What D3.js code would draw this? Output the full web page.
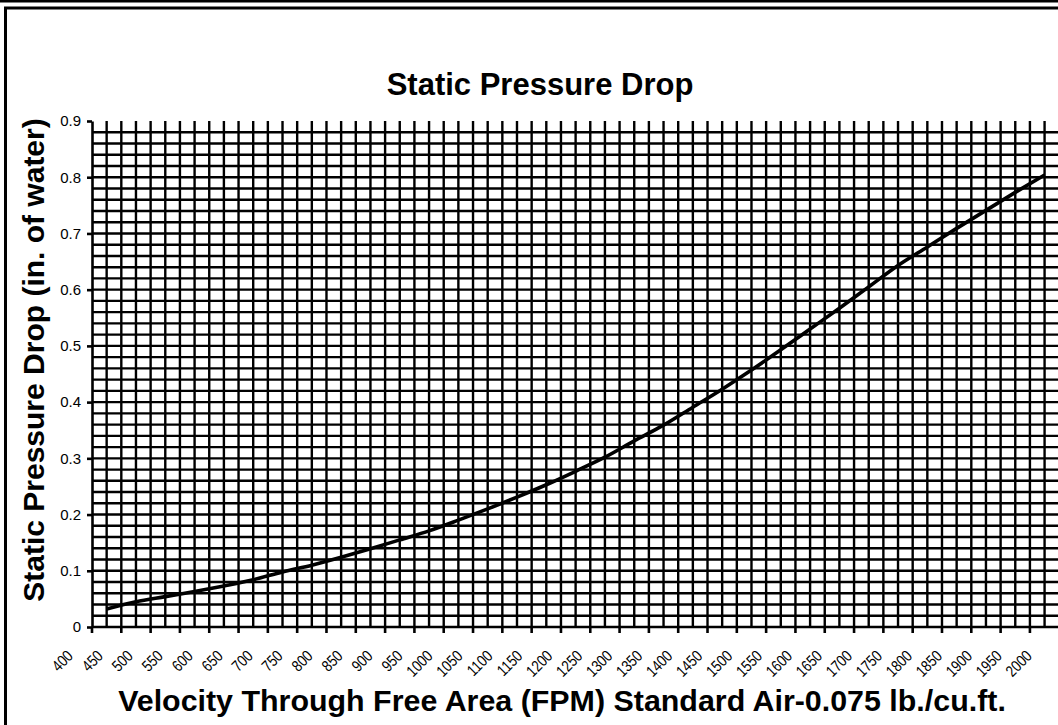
<!DOCTYPE html>
<html>
<head>
<meta charset="utf-8">
<script src="https://cdn.jsdelivr.net/npm/d3@7"></script>
<style>
  body { margin: 0; background: #fff; }
  svg { display: block; font-family: 'Liberation Sans', Arial, sans-serif; }
</style>
</head>
<body>
<svg width="1058" height="725"></svg>
<script>
// velocity categories (FPM)
const velocity = [400, 450, 500, 550, 600, 650, 700, 750, 800, 850, 900, 950, 1000,
  1050, 1100, 1150, 1200, 1250, 1300, 1350, 1400, 1450, 1500, 1550, 1600, 1650,
  1700, 1750, 1800, 1850, 1900, 1950, 2000];

// static pressure drop (in. of water)
const pressure = [0.032, 0.045, 0.054, 0.063, 0.073, 0.084, 0.098, 0.110, 0.124,
  0.139, 0.155, 0.171, 0.190, 0.210, 0.231, 0.253, 0.277, 0.302, 0.331, 0.359,
  0.391, 0.423, 0.457, 0.493, 0.530, 0.567, 0.605, 0.643, 0.676, 0.709, 0.741,
  0.773, 0.804];

const yTicks = [0, 0.1, 0.2, 0.3, 0.4, 0.5, 0.6, 0.7, 0.8, 0.9];

const data = velocity.map((v, i) => ({ v: v, p: pressure[i] }));

const svg = d3.select('svg');

// outer frame
svg.append('line')
  .attr('x1', 0).attr('x2', 1058).attr('y1', 1).attr('y2', 1)
  .attr('stroke', '#000').attr('stroke-width', 3);
svg.append('rect')
  .attr('x', 5.5).attr('y', 8)
  .attr('width', 1100).attr('height', 800)
  .attr('fill', 'none').attr('stroke', '#000').attr('stroke-width', 3);

const plotLeft = 92, plotTop = 121, plotBottom = 627;

const x = d3.scaleBand()
  .domain(velocity)
  .range([plotLeft, plotLeft + 33 * 29.31])
  .padding(0);

const y = d3.scaleLinear()
  .domain([0, 0.9])
  .range([plotBottom, plotTop]);

const half = x.bandwidth() / 2;

// horizontal grid every 0.02 (none at 0.9)
const hGrid = d3.range(1, 45).map(i => i * 0.02);
svg.append('g').selectAll('line')
  .data(hGrid)
  .enter().append('line')
    .attr('x1', plotLeft).attr('x2', 1058)
    .attr('y1', d => y(d)).attr('y2', d => y(d))
    .attr('stroke', '#000').attr('stroke-width', 2.4);

// vertical grid at each category edge and centre
const vGrid = [];
velocity.forEach((v, i) => {
  if (i > 0) vGrid.push(x(v));
  vGrid.push(x(v) + half);
});
svg.append('g').selectAll('line')
  .data(vGrid)
  .enter().append('line')
    .attr('x1', d => d).attr('x2', d => d)
    .attr('y1', plotTop).attr('y2', plotBottom)
    .attr('stroke', '#000').attr('stroke-width', 2.4);

// y axis
const yAxis = svg.append('g')
  .attr('transform', `translate(${plotLeft},0)`)
  .call(d3.axisLeft(y).tickValues(yTicks).tickSize(5).tickSizeOuter(0).tickPadding(6)
    .tickFormat(d => String(d)));
yAxis.select('.domain').attr('stroke-width', 2.6);
yAxis.selectAll('.tick line').attr('stroke-width', 2.6);
yAxis.selectAll('.tick text')
  .attr('font-size', 15)
  .attr('font-family', "'Liberation Sans', Arial, sans-serif")
  .attr('fill', '#000');

// x axis line and ticks between categories
svg.append('line')
  .attr('x1', plotLeft).attr('x2', 1058)
  .attr('y1', plotBottom).attr('y2', plotBottom)
  .attr('stroke', '#000').attr('stroke-width', 2.6);
svg.append('g').selectAll('line')
  .data(velocity)
  .enter().append('line')
    .attr('x1', d => x(d)).attr('x2', d => x(d))
    .attr('y1', plotBottom).attr('y2', plotBottom + 6)
    .attr('stroke', '#000').attr('stroke-width', 2.6);

// rotated category labels (slightly condensed, like the original)
const labelX = d3.scalePoint()
  .domain(velocity)
  .range([74, 1033]);
svg.append('g').selectAll('text')
  .data(velocity)
  .enter().append('text')
    .attr('transform', d => `translate(${labelX(d)},657) rotate(-45) scale(0.82,1)`)
    .attr('text-anchor', 'end')
    .attr('font-size', 16)
    .text(d => d);

// the curve
const line = d3.line()
  .x(d => x(d.v) + half)
  .y(d => y(d.p))
  .curve(d3.curveMonotoneX);

svg.append('path')
  .datum(data)
  .attr('d', line)
  .attr('fill', 'none')
  .attr('stroke', '#000')
  .attr('stroke-width', 3.6);

// titles
svg.append('text')
  .attr('x', 540).attr('y', 95)
  .attr('text-anchor', 'middle')
  .attr('font-size', 31).attr('font-weight', 'bold')
  .text('Static Pressure Drop');

svg.append('text')
  .attr('transform', 'translate(44,360) rotate(-90)')
  .attr('text-anchor', 'middle')
  .attr('font-size', 30).attr('font-weight', 'bold')
  .text('Static Pressure Drop (in. of water)');

svg.append('text')
  .attr('x', 562).attr('y', 711)
  .attr('text-anchor', 'middle')
  .attr('font-size', 30.4).attr('font-weight', 'bold')
  .text('Velocity Through Free Area (FPM) Standard Air-0.075 lb./cu.ft.');
</script>
</body>
</html>
